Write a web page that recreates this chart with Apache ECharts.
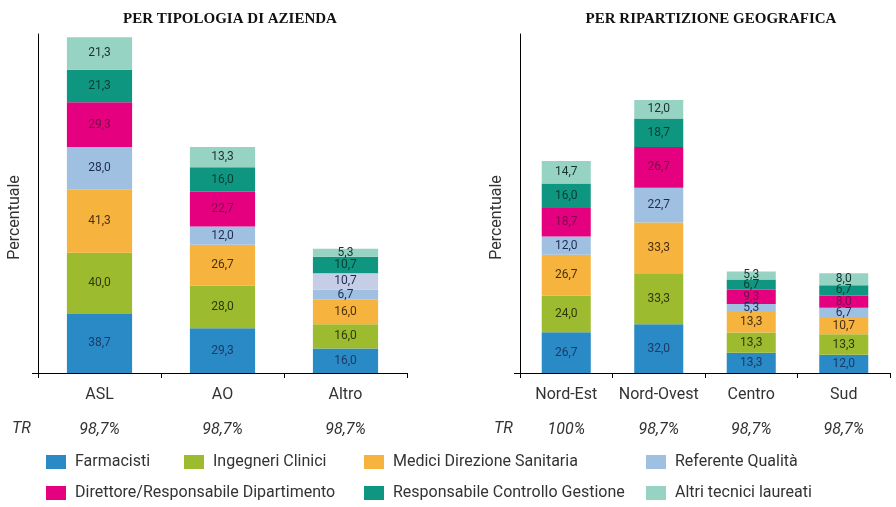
<!DOCTYPE html>
<html>
<head>
<meta charset="utf-8">
<script src="https://cdn.jsdelivr.net/npm/echarts@6/dist/echarts.min.js"></script>
<style>html,body{margin:0;padding:0;background:#fff}#c{width:896px;height:507px}</style>
</head>
<body>
<div id="c"></div>
<script>
// ---- data ----
var catsLeft = ['ASL', 'AO', 'Altro'];
var trLeft = ['98,7%', '98,7%', '98,7%'];
var catsRight = ['Nord-Est', 'Nord-Ovest', 'Centro', 'Sud'];
var trRight = ['100%', '98,7%', '98,7%', '98,7%'];
var seriesNames = ['Farmacisti', 'Ingegneri Clinici', 'Medici Direzione Sanitaria', 'Referente Qualità',
  'Direttore/Responsabile Dipartimento', 'Responsabile Controllo Gestione', 'Altri tecnici laureati'];
var farmacistiLeft = [38.7, 29.3, 16.0];
var farmacistiRight = [26.7, 32.0, 13.3, 12.0];
var ingegneriLeft = [40.0, 28.0, 16.0];
var ingegneriRight = [24.0, 33.3, 13.3, 13.3];
var mediciLeft = [41.3, 26.7, 16.0];
var mediciRight = [26.7, 33.3, 13.3, 10.7];
var referenteLeft = [28.0, 12.0, 6.7];
var referenteRight = [12.0, 22.7, 5.3, 6.7];
var direttoreLeft = [29.3, 22.7, 10.7];
var direttoreRight = [18.7, 26.7, 9.3, 8.0];
var controlloLeft = [21.3, 16.0, 10.7];
var controlloRight = [16.0, 18.7, 6.7, 6.7];
var altriLeft = [21.3, 13.3, 5.3];
var altriRight = [14.7, 12.0, 5.3, 8.0];

var leftValues = [farmacistiLeft, ingegneriLeft, mediciLeft, referenteLeft, direttoreLeft, controlloLeft, altriLeft];
var rightValues = [farmacistiRight, ingegneriRight, mediciRight, referenteRight, direttoreRight, controlloRight, altriRight];

// ---- styles ----
var FONT = 'Roboto';
var colors = ['#2a8ac6', '#9dbb2e', '#f6b33e', '#a0c0e2', '#e4007e', '#0f9680', '#97d3c3'];
var labelColors = ['#1b3a66', '#2c3a0e', '#4a3010', '#1d2d55', '#7a0c4a', '#093d33', '#17332f'];

function fmt(p) { return p.value.toFixed(1).replace('.', ','); }

var series = [];
function addSeries(values, gridIdx, stack) {
  values.forEach(function (arr, i) {
    var data = arr.map(function (v, j) {
      // Altro's Direttore segment is drawn in a lighter lavender in the reference
      if (gridIdx === 0 && i === 4 && j === 2) {
        return { value: v, itemStyle: { color: '#c6cde6' }, label: { color: '#1d2d55' } };
      }
      return v;
    });
    series.push({
      name: seriesNames[i], type: 'bar', stack: stack,
      xAxisIndex: gridIdx, yAxisIndex: gridIdx,
      barWidth: '53%',
      itemStyle: { color: colors[i] },
      label: { show: true, position: 'inside', formatter: fmt, color: labelColors[i],
        fontFamily: FONT, fontSize: 12 },
      data: data
    });
  });
}
addSeries(leftValues, 0, 'L');
addSeries(rightValues, 1, 'R');

function xAxis(cats, trs, gridIdx) {
  return {
    type: 'category', gridIndex: gridIdx, data: cats,
    axisLine: { lineStyle: { color: '#000', width: 1 } },
    axisTick: { show: true, length: 5, lineStyle: { color: '#000' } },
    axisLabel: {
      margin: 11, interval: 0,
      formatter: function (v, idx) { return '{c|' + v + '}\n{t|' + trs[idx] + '}'; },
      rich: {
        c: { fontFamily: FONT, fontSize: 16, color: '#333', lineHeight: 22 },
        t: { fontFamily: FONT, fontSize: 16, fontStyle: 'italic', color: '#333', lineHeight: 48 }
      }
    }
  };
}
function yAxis(gridIdx) {
  return {
    type: 'value', gridIndex: gridIdx, min: 0, max: 222,
    name: 'Percentuale', nameLocation: 'middle', nameGap: 15,
    nameTextStyle: { fontFamily: FONT, fontSize: 16, color: '#333', padding: [0, 28, 0, 0] },
    axisLine: { show: true, lineStyle: { color: '#000', width: 1 } },
    axisTick: { show: true, customValues: [0], length: 6, lineStyle: { color: '#000' } },
    axisLabel: { show: false },
    splitLine: { show: false }
  };
}

function legend(left, names) {
  return {
    orient: 'vertical', left: left, top: 454, height: 53, itemWidth: 20, itemHeight: 14, itemGap: 15,
    padding: 0,
    icon: 'rect', data: names,
    textStyle: { fontFamily: FONT, fontSize: 16, color: '#333', padding: [0, 0, 0, 4] }
  };
}

var option = {
  animation: false,
  title: [
    { text: 'PER TIPOLOGIA DI AZIENDA', left: 225, top: 7, textAlign: 'center',
      textStyle: { fontFamily: 'Liberation Serif', fontWeight: 'bold', fontSize: 15, color: '#111' } },
    { text: 'PER RIPARTIZIONE GEOGRAFICA', left: 706, top: 7, textAlign: 'center',
      textStyle: { fontFamily: 'Liberation Serif', fontWeight: 'bold', fontSize: 15, color: '#111' } }
  ],
  grid: [
    { left: 38, right: 489, top: 34, bottom: 134 },
    { left: 520, right: 6, top: 34, bottom: 134 }
  ],
  xAxis: [xAxis(catsLeft, trLeft, 0), xAxis(catsRight, trRight, 1)],
  yAxis: [yAxis(0), yAxis(1)],
  legend: [
    legend(46, [seriesNames[0], seriesNames[4]]),
    legend(184, [seriesNames[1]]),
    legend(364, [seriesNames[2], seriesNames[5]]),
    legend(646, [seriesNames[3], seriesNames[6]])
  ],
  graphic: [
    { type: 'text', left: 12, top: 421, style: { text: 'TR', fontFamily: FONT, fontSize: 16, fontStyle: 'italic', fill: '#333' } },
    { type: 'text', left: 494, top: 421, style: { text: 'TR', fontFamily: FONT, fontSize: 16, fontStyle: 'italic', fill: '#333' } }
  ],
  series: series
};

var chart = echarts.init(document.getElementById('c'), null, { renderer: 'canvas' });
chart.setOption(option);
</script>
</body>
</html>
